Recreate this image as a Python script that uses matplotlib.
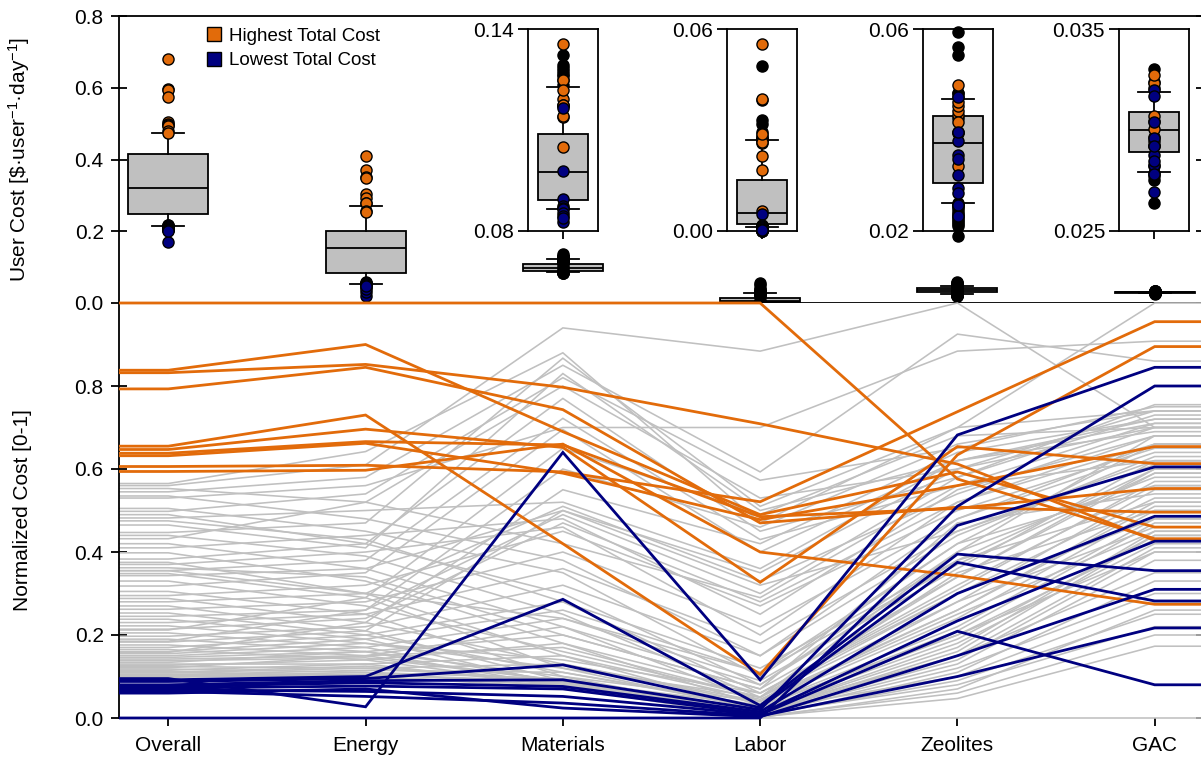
import matplotlib
matplotlib.use("Agg")
import matplotlib.pyplot as plt
from matplotlib.lines import Line2D

plt.rcParams['font.family'] = ['Liberation Sans', 'DejaVu Sans']
plt.rcParams['mathtext.default'] = 'regular'

ORANGE = '#E26B0A'
NAVY = '#000080'
GREY = '#C0C0C0'
FS = 15

categories = ['Overall', 'Energy', 'Materials', 'Labor', 'Zeolites', 'GAC']

# raw cost range of each category [$/user/day], normalized 0 -> min, 1 -> max
cost_min = [0.17, 0.02, 0.0827, 0.0, 0.019, 0.0264]
cost_max = [0.68, 0.41, 0.1355, 0.0555, 0.0595, 0.033]

# box plot statistics [$/user/day]
box_whislo = [0.215, 0.054, 0.0865, 0.0012, 0.0256, 0.0279]
box_q1 = [0.248, 0.085, 0.0892, 0.0020, 0.0296, 0.0289]
box_med = [0.321, 0.152, 0.0976, 0.0054, 0.0374, 0.0300]
box_q3 = [0.415, 0.201, 0.1089, 0.0151, 0.0428, 0.0309]
box_whishi = [0.475, 0.271, 0.1229, 0.0270, 0.0462, 0.0319]

# zoomed insets (Materials, Labor, Zeolites, GAC)
inset_cats = [2, 3, 4, 5]
inset_ylim = [(0.08, 0.14), (0.0, 0.06), (0.02, 0.06), (0.025, 0.035)]
inset_labels = [('0.08', '0.14'), ('0.00', '0.06'), ('0.02', '0.06'), ('0.025', '0.035')]

# normalized costs, highest total cost designs
orange_overall = [1.000, 0.838, 0.832, 0.793, 0.655, 0.647, 0.638, 0.632, 0.606, 0.594]
orange_energy = [1.000, 0.900, 0.852, 0.845, 0.730, 0.696, 0.666, 0.662, 0.609, 0.597]
orange_materials = [1.000, 0.690, 0.797, 0.743, 0.420, 0.652, 0.658, 0.590, 0.593, 0.660]
orange_labor = [1.000, 0.490, 0.709, 0.470, 0.105, 0.327, 0.485, 0.478, 0.521, 0.400]
orange_zeolites = [0.576, 0.593, 0.612, 0.508, 0.634, 0.654, 0.505, 0.560, 0.738, 0.343]
orange_gac = [0.432, 0.460, 0.428, 0.496, 0.895, 0.613, 0.553, 0.654, 0.955, 0.274]

# normalized costs, lowest total cost designs
blue_overall = [0.000, 0.095, 0.092, 0.088, 0.080, 0.076, 0.072, 0.068, 0.064, 0.060]
blue_energy = [0.000, 0.027, 0.100, 0.095, 0.090, 0.085, 0.077, 0.064, 0.052, 0.070]
blue_materials = [0.000, 0.640, 0.286, 0.128, 0.092, 0.076, 0.070, 0.052, 0.036, 0.024]
blue_labor = [0.000, 0.092, 0.030, 0.025, 0.020, 0.015, 0.010, 0.008, 0.005, 0.003]
blue_zeolites = [0.464, 0.682, 0.395, 0.375, 0.510, 0.300, 0.234, 0.209, 0.100, 0.150]
blue_gac = [0.605, 0.845, 0.355, 0.282, 0.800, 0.486, 0.426, 0.080, 0.217, 0.310]

# normalized costs, all other designs
gray_overall = [0.565, 0.560, 0.553, 0.545, 0.535, 0.530, 0.505, 0.498, 0.490, 0.482,
                0.475, 0.447, 0.440, 0.432, 0.420, 0.410, 0.398, 0.383, 0.375, 0.370,
                0.362, 0.355, 0.348, 0.343, 0.330, 0.318, 0.305, 0.295, 0.288, 0.280,
                0.270, 0.262, 0.253, 0.245, 0.238, 0.230, 0.222, 0.214, 0.205, 0.197,
                0.190, 0.183, 0.176, 0.170, 0.165, 0.160, 0.155, 0.150, 0.146, 0.142,
                0.138, 0.134, 0.130, 0.127, 0.124, 0.121, 0.118, 0.115, 0.112, 0.109,
                0.106, 0.104, 0.102, 0.100, 0.098, 0.158, 0.185, 0.212, 0.355, 0.465, 0.110]
gray_energy = [0.642, 0.610, 0.520, 0.580, 0.480, 0.560, 0.450, 0.540, 0.420, 0.500,
               0.430, 0.470, 0.390, 0.520, 0.360, 0.440, 0.330, 0.420, 0.300, 0.400,
               0.340, 0.380, 0.290, 0.360, 0.270, 0.350, 0.250, 0.320, 0.230, 0.300,
               0.210, 0.280, 0.200, 0.260, 0.190, 0.250, 0.180, 0.240, 0.170, 0.220,
               0.160, 0.210, 0.150, 0.200, 0.140, 0.190, 0.180, 0.170, 0.160, 0.150,
               0.145, 0.160, 0.130, 0.140, 0.120, 0.150, 0.110, 0.130, 0.100, 0.120,
               0.105, 0.115, 0.100, 0.110, 0.105, 0.230, 0.260, 0.290, 0.300, 0.410, 0.125]
gray_materials = [0.880, 0.940, 0.420, 0.850, 0.380, 0.700, 0.350, 0.820, 0.300, 0.520,
                  0.280, 0.867, 0.250, 0.800, 0.220, 0.480, 0.180, 0.770, 0.150, 0.460,
                  0.200, 0.722, 0.120, 0.500, 0.160, 0.695, 0.100, 0.450, 0.130, 0.510,
                  0.090, 0.400, 0.110, 0.490, 0.080, 0.360, 0.140, 0.470, 0.085, 0.320,
                  0.100, 0.500, 0.090, 0.280, 0.080, 0.260, 0.120, 0.240, 0.075, 0.220,
                  0.090, 0.200, 0.078, 0.180, 0.090, 0.170, 0.076, 0.150, 0.080, 0.130,
                  0.085, 0.110, 0.074, 0.095, 0.088, 0.550, 0.600, 0.650, 0.240, 0.830, 0.085]
gray_labor = [0.470, 0.884, 0.290, 0.593, 0.150, 0.700, 0.100, 0.573, 0.080, 0.360,
              0.060, 0.510, 0.050, 0.530, 0.040, 0.250, 0.030, 0.450, 0.020, 0.200,
              0.070, 0.430, 0.020, 0.320, 0.050, 0.400, 0.010, 0.270, 0.040, 0.330,
              0.015, 0.220, 0.030, 0.300, 0.010, 0.180, 0.060, 0.280, 0.008, 0.150,
              0.040, 0.350, 0.012, 0.120, 0.006, 0.110, 0.050, 0.090, 0.004, 0.080,
              0.030, 0.070, 0.003, 0.060, 0.020, 0.050, 0.002, 0.045, 0.010, 0.035,
              0.015, 0.025, 0.001, 0.020, 0.012, 0.420, 0.460, 0.490, 0.110, 0.500, 0.000]
gray_zeolites = [0.700, 1.000, 0.560, 0.925, 0.480, 0.884, 0.420, 0.650, 0.380, 0.620,
                 0.300, 0.700, 0.340, 0.600, 0.250, 0.550, 0.200, 0.580, 0.150, 0.520,
                 0.470, 0.560, 0.100, 0.450, 0.400, 0.620, 0.080, 0.500, 0.350, 0.540,
                 0.180, 0.480, 0.280, 0.580, 0.130, 0.450, 0.320, 0.520, 0.120, 0.440,
                 0.260, 0.600, 0.160, 0.380, 0.090, 0.420, 0.300, 0.360, 0.060, 0.400,
                 0.220, 0.340, 0.047, 0.310, 0.200, 0.280, 0.110, 0.260, 0.140, 0.240,
                 0.170, 0.210, 0.070, 0.190, 0.150, 0.640, 0.660, 0.680, 0.370, 0.620, 0.000]
gray_gac = [0.740, 0.700, 0.620, 0.860, 0.660, 0.908, 0.560, 0.750, 0.520, 0.720,
            0.480, 1.000, 0.600, 0.700, 0.450, 0.680, 0.400, 0.730, 0.350, 0.660,
            0.540, 0.710, 0.280, 0.620, 0.580, 0.690, 0.220, 0.650, 0.500, 0.700,
            0.420, 0.640, 0.460, 0.755, 0.380, 0.610, 0.560, 0.680, 0.300, 0.630,
            0.520, 0.740, 0.440, 0.600, 0.250, 0.660, 0.530, 0.620, 0.200, 0.680,
            0.480, 0.590, 0.173, 0.570, 0.430, 0.550, 0.330, 0.510, 0.400, 0.500,
            0.450, 0.470, 0.260, 0.440, 0.410, 0.720, 0.740, 0.700, 0.590, 0.710, 0.000]

gray = [gray_overall, gray_energy, gray_materials, gray_labor, gray_zeolites, gray_gac]
orange = [orange_overall, orange_energy, orange_materials, orange_labor, orange_zeolites, orange_gac]
blue = [blue_overall, blue_energy, blue_materials, blue_labor, blue_zeolites, blue_gac]


def to_cost(values, i):
    """Turn normalized values of category i back into $/user/day."""
    return [cost_min[i] + v * (cost_max[i] - cost_min[i]) for v in values]


def box_stats(i):
    return dict(med=box_med[i], q1=box_q1[i], q3=box_q3[i],
                whislo=box_whislo[i], whishi=box_whishi[i], fliers=[])


def outliers(i):
    return [c for c in to_cost(gray[i], i) if c < box_whislo[i] or c > box_whishi[i]]


def draw_box(ax, i, pos, capw):
    ax.bxp([box_stats(i)], positions=[pos], widths=0.405, capwidths=capw,
           patch_artist=True, showfliers=False,
           boxprops=dict(facecolor=GREY, edgecolor='k', linewidth=1.3),
           medianprops=dict(color='k', linewidth=1.3),
           whiskerprops=dict(color='k', linewidth=1.3),
           capprops=dict(color='k', linewidth=1.3))


def dots(ax, x, ys, color):
    ax.plot([x] * len(ys), ys, 'o', ms=8, mfc=color, mec='k', mew=1,
            clip_on=False, zorder=4)


W, H = 1201, 765
fig = plt.figure(figsize=(W / 100, H / 100), dpi=100)
ax_top = fig.add_axes([119 / W, 462 / H, 1085 / W, 287 / H])
ax_bot = fig.add_axes([119 / W, 47 / H, 1085 / W, 415 / H])

# ---- top panel: box plots of user cost
for i in range(len(categories)):
    draw_box(ax_top, i, i, 0.162)
    if i < 2:
        dots(ax_top, i, outliers(i), 'k')
        dots(ax_top, i, to_cost(orange[i], i), ORANGE)
        dots(ax_top, i, to_cost(blue[i], i), NAVY)
    else:
        dots(ax_top, i, outliers(i) + to_cost(orange[i], i) + to_cost(blue[i], i), 'k')

ax_top.set_xlim(-0.25, 5.25)
ax_top.set_ylim(0, 0.8)
ax_top.set_xticks([])
ax_top.set_yticks([0, 0.2, 0.4, 0.6, 0.8])
ax_top.set_yticklabels(['0.0', '0.2', '0.4', '0.6', '0.8'])
ax_top.tick_params(axis='y', direction='inout', length=12, width=1.3,
                   left=True, right=True, labelsize=FS, pad=5)
for s in ax_top.spines.values():
    s.set_linewidth(1.3)
ax_top.set_ylabel(r'User Cost [\$·user$^{-1}$·day$^{-1}$]', fontsize=FS)
ax_top.yaxis.set_label_coords(-0.08, 0.5)

handles = [
    Line2D([], [], marker='s', ls='none', mfc=ORANGE, mec='k', ms=10, label='Highest Total Cost'),
    Line2D([], [], marker='s', ls='none', mfc=NAVY, mec='k', ms=10, label='Lowest Total Cost'),
]
ax_top.legend(handles=handles, loc='upper left', bbox_to_anchor=(0.080, 0.96),
              frameon=False, fontsize=13.5, handlelength=0.9, handletextpad=0.35,
              labelspacing=0.4, borderpad=0, borderaxespad=0)

# ---- insets with zoomed y range
inset_left = [528, 727, 923, 1119]
for k, i in enumerate(inset_cats):
    ax_in = fig.add_axes([inset_left[k] / W, 534 / H, 70 / W, 202 / H])
    draw_box(ax_in, i, 0, 0.265)
    dots(ax_in, 0, outliers(i), 'k')
    dots(ax_in, 0, to_cost(orange[i], i), ORANGE)
    dots(ax_in, 0, to_cost(blue[i], i), NAVY)
    ax_in.set_xlim(-0.2835, 0.2835)
    ax_in.set_ylim(*inset_ylim[k])
    ax_in.set_yticks(inset_ylim[k])
    ax_in.set_yticklabels(inset_labels[k])
    ax_in.set_xticks([0])
    ax_in.set_xticklabels([])
    ax_in.tick_params(axis='y', direction='out', length=7, width=1.3, labelsize=FS, pad=3)
    ax_in.tick_params(axis='x', direction='out', length=6, width=1.3)
    for s in ax_in.spines.values():
        s.set_linewidth(1.3)

# ---- bottom panel: parallel coordinates of normalized cost
xs = [-0.25] + list(range(len(categories))) + [5.25]


def draw_lines(series, color, lw, z):
    for row in zip(*series):
        ys = [row[0]] + list(row) + [row[-1]]
        ax_bot.plot(xs, ys, color=color, lw=lw, solid_capstyle='butt',
                    solid_joinstyle='miter', clip_on=False, zorder=z)


draw_lines(gray, GREY, 1.15, 2)
draw_lines(orange, ORANGE, 2.0, 3)
draw_lines(blue, NAVY, 2.0, 4)

ax_bot.set_xlim(-0.25, 5.25)
ax_bot.set_ylim(0, 1)
ax_bot.set_xticks(range(len(categories)))
ax_bot.set_xticklabels(categories)
ax_bot.set_yticks([0, 0.2, 0.4, 0.6, 0.8])
ax_bot.set_yticklabels(['0.0', '0.2', '0.4', '0.6', '0.8'])
ax_bot.tick_params(axis='y', direction='inout', length=12, width=1.3,
                   left=True, right=True, labelsize=FS, pad=5)
ax_bot.tick_params(axis='x', direction='out', length=6, width=1.3, labelsize=FS, pad=7)
ax_bot.spines['top'].set_visible(False)
ax_bot.spines['bottom'].set_visible(False)
for s in ax_bot.spines.values():
    s.set_linewidth(1.3)
ax_bot.set_ylabel('Normalized Cost [0-1]', fontsize=FS)
ax_bot.yaxis.set_label_coords(-0.08, 0.5)

fig.savefig('out.png', dpi=100)
